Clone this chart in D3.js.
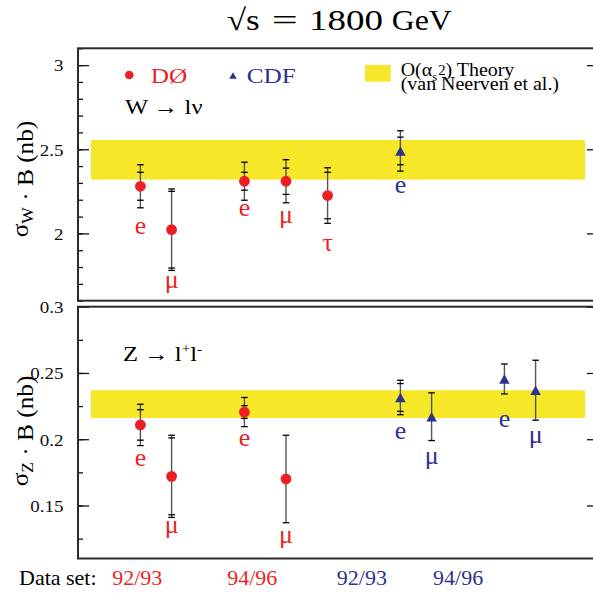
<!DOCTYPE html>
<html>
<head>
<meta charset="utf-8">
<script src="https://cdn.jsdelivr.net/npm/d3@7"></script>
</head>
<body style="margin:0">
<svg id="chart" width="593" height="597" font-family="Liberation Serif"></svg>
<script>
// ---------------------------------------------------------------------//
//                               Data                                   //
// ---------------------------------------------------------------------//

// W -> l nu panel (nb)
var wX    = [12, 18, 32, 40, 48, 62];
var wExp  = ["D0", "D0", "D0", "D0", "D0", "CDF"];
var wChan = ["e", "μ", "e", "μ", "τ", "e"];
var wVal  = [2.28, 2.022, 2.31, 2.31, 2.225, 2.49];
var wStat = [0.083, 0.228, 0.053, 0.078, 0.138, 0.082];
var wTot  = [0.128, 0.242, 0.113, 0.128, 0.165, 0.12];
var wLab  = [2.032, 1.693, 2.139, 2.08, 1.931, 2.273];
var wBand = [2.32, 2.555];

// Z -> l+ l- panel (nb)
var zX    = [12, 18, 32, 40, 62, 68, 82, 88];
var zExp  = ["D0", "D0", "D0", "D0", "CDF", "CDF", "CDF", "CDF"];
var zChan = ["e", "μ", "e", "μ", "e", "μ", "e", "μ"];
var zVal  = [0.2108, 0.172, 0.2205, 0.17, 0.2315, 0.217, 0.2455, 0.237];
var zStat = [0.0115, 0.029, 0.0048, 0, 0.0105, 0, 0, 0];
var zTot  = [0.0156, 0.031, 0.011, 0.033, 0.013, 0.018, 0.0113, 0.0226];
var zLab  = [0.1847, 0.1315, 0.1994, 0.124, 0.2045, 0.1832, 0.2138, 0.1994];
var zBand = [0.216, 0.237];

// data set labels along the bottom
var setNames = ["92/93", "94/96", "92/93", "94/96"];
var setExp   = ["D0", "D0", "CDF", "CDF"];
var setX     = [11.4, 33.5, 54.6, 73.1];
var bandX    = [2.5, 97.5];

// axis ticks
var wMajor = [2, 2.5, 3];
var wMinor = d3.range(16, 32).map(function(d) { return d / 10; });
var zMajor = [0.15, 0.2, 0.25, 0.3];
var zMinor = d3.range(5, 13).map(function(d) { return d * 0.025; });

// ---------------------------------------------------------------------//
//                              Setup                                   //
// ---------------------------------------------------------------------//

var RED = "#ec1f27", BLUE = "#2e3192", YEL = "#f6e829";
var FONT = "Liberation Serif";
var svg = d3.select("#chart");

var x  = d3.scaleLinear().domain([0, 100]).range([78, 598]);
var yW = d3.scaleLinear().domain([1.6, 3.1]).range([300.7, 48.3]);
var yZ = d3.scaleLinear().domain([0.11, 0.3]).range([558.5, 306.7]);

function colorOf(exp) { return exp === "D0" ? RED : BLUE; }

// text with a horizontal stretch (the original fonts are wider than Times)
function txt(g, px, py, s, size, sx, anchor, color) {
  return g.append("text")
    .attr("transform", "translate(" + px + "," + py + ") scale(" + sx + ",1)")
    .attr("font-family", FONT)
    .attr("font-size", size)
    .attr("text-anchor", anchor || "start")
    .attr("fill", color || "#000")
    .text(s);
}

function triangle(w, h) {
  return "M0," + (-h / 2) + "L" + (w / 2) + "," + (h / 2) + "L" + (-w / 2) + "," + (h / 2) + "Z";
}

// ---------------------------------------------------------------------//
//                           Panel drawing                              //
// ---------------------------------------------------------------------//

function panel(y, xs, exps, chans, vals, stats, tots, labs, band, major, minor, fmt) {
  var g = svg.append("g");

  // theory band
  g.append("rect")
    .attr("x", x(bandX[0]))
    .attr("width", x(bandX[1]) - x(bandX[0]))
    .attr("y", y(band[1]))
    .attr("height", y(band[0]) - y(band[1]))
    .attr("fill", YEL);

  // ticks, left side (inward) and right side
  var lMinor = g.append("g").attr("transform", "translate(" + x(0) + ",0)")
    .call(d3.axisLeft(y).tickValues(minor).tickSize(-5).tickFormat(""));
  var lMajor = g.append("g").attr("transform", "translate(" + x(0) + ",0)")
    .call(d3.axisLeft(y).tickValues(major).tickSize(-11).tickPadding(15).tickFormat(fmt));
  var rMajor = g.append("g").attr("transform", "translate(" + x(100) + ",0)")
    .call(d3.axisRight(y).tickValues(major).tickSize(-11).tickFormat(""));
  [lMinor, lMajor, rMajor].forEach(function(a) {
    a.attr("font-family", FONT).attr("font-size", 17);
    a.select(".domain").remove();
    a.selectAll("line").attr("stroke", "#111").attr("stroke-width", 1.3);
  });
  lMajor.selectAll("text")
    .attr("x", 0)
    .attr("dy", "0.34em")
    .attr("transform", "translate(-14.5,0) scale(1.12,1)")
    .attr("font-family", FONT)
    .attr("font-size", 17)
    .attr("fill", "#111");

  // frame
  g.append("rect")
    .attr("x", x(0)).attr("y", y.range()[1])
    .attr("width", x(100) - x(0))
    .attr("height", y.range()[0] - y.range()[1])
    .attr("fill", "none")
    .attr("stroke", "#2b2b2b")
    .attr("stroke-width", 2);

  // error bars and markers
  var idx = d3.range(vals.length);
  var pts = g.selectAll(".pt").data(idx).enter().append("g")
    .attr("class", "pt")
    .attr("transform", function(i) { return "translate(" + x(xs[i]) + ",0)"; });

  pts.append("line")
    .attr("y1", function(i) { return y(vals[i] + tots[i]); })
    .attr("y2", function(i) { return y(vals[i] - tots[i]); })
    .attr("stroke", "#555")
    .attr("stroke-width", 1.4);

  pts.each(function(i) {
    var p = d3.select(this);
    var caps = [vals[i] + tots[i], vals[i] - tots[i]];
    if (stats[i] > 0) caps.push(vals[i] + stats[i], vals[i] - stats[i]);
    caps.forEach(function(c) {
      p.append("line")
        .attr("x1", -3.3).attr("x2", 3.3)
        .attr("y1", y(c)).attr("y2", y(c))
        .attr("stroke", "#000").attr("stroke-width", 1.3);
    });
    if (exps[i] === "D0") {
      p.append("circle").attr("cy", y(vals[i])).attr("r", 5.4).attr("fill", RED);
    } else {
      p.append("path")
        .attr("transform", "translate(0," + y(vals[i]) + ")")
        .attr("d", triangle(10.5, 9.5))
        .attr("fill", BLUE);
    }
    // channel label below the bar
    var off = chans[i] === "μ" ? 3 : 6;
    p.append("text")
      .attr("y", y(labs[i]) + off)
      .attr("text-anchor", "middle")
      .attr("font-family", FONT)
      .attr("font-size", 26)
      .attr("fill", colorOf(exps[i]))
      .text(chans[i]);
  });

  return g;
}

panel(yW, wX, wExp, wChan, wVal, wStat, wTot, wLab, wBand, wMajor, wMinor, d3.format(""));
panel(yZ, zX, zExp, zChan, zVal, zStat, zTot, zLab, zBand, zMajor, zMinor, d3.format(""));

// ---------------------------------------------------------------------//
//                       Titles, legend, labels                         //
// ---------------------------------------------------------------------//

// title, set piece by piece (wide math spacing round "=")
var title = svg.append("text")
  .attr("y", 30)
  .attr("font-family", FONT)
  .attr("font-size", 30)
  .attr("fill", "#000");
[["√s", 226.7, 33], ["=", 271.7, 26], ["1800", 309, 74], ["GeV", 391.7, 60]].forEach(function(t) {
  title.append("tspan")
    .attr("x", t[1])
    .attr("textLength", t[2])
    .attr("lengthAdjust", "spacingAndGlyphs")
    .text(t[0]);
});

// legend
svg.append("circle").attr("cx", 129.3).attr("cy", 75).attr("r", 4.3).attr("fill", RED);
txt(svg, 150.7, 82.5, "DØ", 22, 1.15, "start", RED);
svg.append("path").attr("transform", "translate(233,75.5)").attr("d", triangle(7.5, 6.5)).attr("fill", BLUE);
txt(svg, 246.7, 82.5, "CDF", 22, 1.15, "start", BLUE);

svg.append("rect").attr("x", 365).attr("y", 65).attr("width", 25.7).attr("height", 16.7).attr("fill", YEL);
var th = txt(svg, 400.7, 76, "", 19, 1.05, "start");
th.append("tspan").text("O(α");
th.append("tspan").attr("font-size", 12).attr("dy", 5).text("s");
th.append("tspan").attr("font-size", 14).attr("dy", -6).attr("dx", 1).text("2");
th.append("tspan").attr("dy", 1).text(") Theory");
txt(svg, 400.7, 90, "(van Neerven et al.)", 19, 1.05, "start");

// process labels
txt(svg, 125, 114, "W → lν", 21, 1.17, "start");
var zt = txt(svg, 123, 360.7, "", 21, 1.17, "start");
zt.append("tspan").text("Z → l");
zt.append("tspan").attr("font-size", 13).attr("dy", -8).text("+");
zt.append("tspan").attr("dy", 8).text("l");
zt.append("tspan").attr("font-size", 13).attr("dy", -8).text("-");

// y axis titles
function yTitle(cy, sub) {
  var t = svg.append("text")
    .attr("transform", "translate(33," + cy + ") rotate(-90) scale(1.1,1)")
    .attr("text-anchor", "middle")
    .attr("font-family", FONT)
    .attr("font-size", 23);
  t.append("tspan").attr("dy", -5).text("σ");
  t.append("tspan").attr("font-size", 16).attr("dy", 5).text(sub);
  t.append("tspan").text(" · B (nb)");
}
yTitle(179, "W");
yTitle(431, "Z");

// data set row
txt(svg, 19, 585, "Data set:", 22, 1.0, "start");
svg.selectAll(".set").data(d3.range(setNames.length)).enter().append("text")
  .attr("class", "set")
  .attr("x", function(i) { return x(setX[i]); })
  .attr("y", 585)
  .attr("text-anchor", "middle")
  .attr("font-family", FONT)
  .attr("font-size", 22)
  .attr("fill", function(i) { return colorOf(setExp[i]); })
  .text(function(i) { return setNames[i]; });
</script>
</body>
</html>
